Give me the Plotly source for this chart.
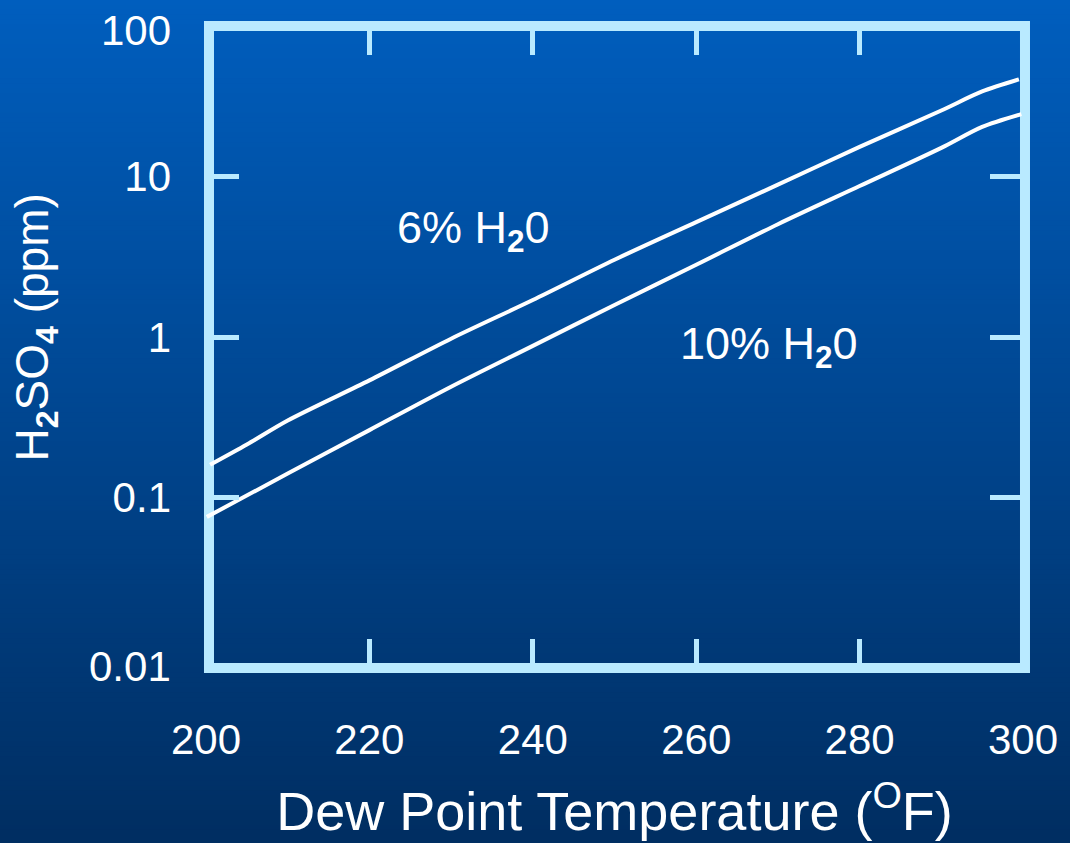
import plotly.graph_objects as go

# ---------------- data ----------------
temp_6pct = [200.5, 205, 210, 220, 230, 240, 250, 260, 270, 280, 290, 295, 299.5]
ppm_6pct = [0.160, 0.214, 0.302, 0.537, 0.977, 1.70, 3.03, 5.20, 8.9, 15.3, 25.8, 33.9, 40.3]

temp_10pct = [200.1, 210, 220, 230, 240, 250, 260, 270, 280, 290, 295, 299.8]
ppm_10pct = [0.0757, 0.141, 0.263, 0.490, 0.881, 1.585, 2.82, 5.05, 8.73, 15.1, 20.4, 24.5]

x_tick_vals = [200, 220, 240, 260, 280, 300]
x_tick_text = ["200", "220", "240", "260", "280", "300"]
y_tick_vals = [0.1, 1, 10]
y_tick_text = ["0.1", "1", "10"]
y_extra_labels = ["100", "0.01"]

# ---------------- geometry / style ----------------
W, H = 1070, 843
ML, MR, MT, MB = 206, 45, 31, 174
PW, PH = W - ML - MR, H - MT - MB
FONT = "Liberation Sans, Arial, sans-serif"
FRAME = "#b9eaff"


def xp(px):
    return (px - ML) / PW


def yp(py):
    return (MT + PH - py) / PH


top_rgb = (0, 94, 190)
bot_rgb = (0, 46, 98)

shapes = []
N = 170
for i in range(N):
    t = (i + 0.5) / N
    c = tuple(round(top_rgb[k] + (bot_rgb[k] - top_rgb[k]) * t) for k in range(3))
    y_top = -20 if i == 0 else H * i / N - 0.6
    y_bot = H + 20 if i == N - 1 else H * (i + 1) / N + 0.6
    shapes.append(dict(
        type="rect", xref="paper", yref="paper",
        x0=xp(-5), x1=xp(W + 5), y0=yp(y_bot), y1=yp(y_top),
        fillcolor="rgb(%d,%d,%d)" % c, line=dict(width=0), layer="below"))

# frame
shapes.append(dict(type="rect", xref="paper", yref="paper",
                   x0=xp(209), x1=xp(1027), y0=yp(674), y1=yp(26),
                   line=dict(color=FRAME, width=10), fillcolor="rgba(0,0,0,0)",
                   layer="below"))

fig = go.Figure()
fig.add_trace(go.Scatter(x=temp_6pct, y=ppm_6pct, mode="lines",
                         line=dict(color="white", width=4, shape="spline", smoothing=0.8),
                         name="6% H2O", showlegend=False, hoverinfo="x+y"))
fig.add_trace(go.Scatter(x=temp_10pct, y=ppm_10pct, mode="lines",
                         line=dict(color="white", width=4, shape="spline", smoothing=0.8),
                         name="10% H2O", showlegend=False, hoverinfo="x+y"))

annotations = [
    dict(text="6% H<sub><b>2</b></sub>0", x=232.8, y=0.704, xref="x", yref="y",
         showarrow=False, font=dict(family=FONT, size=45, color="white"),
         xanchor="center", yanchor="middle", yshift=-6),
    dict(text="10% H<sub><b>2</b></sub>0", x=268.9, y=-0.02, xref="x", yref="y",
         showarrow=False, font=dict(family=FONT, size=45, color="white"),
         xanchor="center", yanchor="middle", yshift=-6),
    dict(text=y_extra_labels[0], x=xp(173), y=yp(30), xref="paper", yref="paper",
         showarrow=False, font=dict(family=FONT, size=42, color="white"),
         xanchor="right", yanchor="middle"),
    dict(text=y_extra_labels[1], x=xp(173), y=yp(673), xref="paper", yref="paper",
         showarrow=False, font=dict(family=FONT, size=42, color="white"),
         xanchor="right", yanchor="middle"),
    dict(text="H<sub><b>2</b></sub>SO<sub><b>4</b></sub> (ppm)", x=xp(35), y=yp(330),
         xref="paper", yref="paper", showarrow=False, textangle=-90,
         font=dict(family=FONT, size=46, color="white"),
         xanchor="center", yanchor="middle"),
]

fig.update_layout(
    width=W, height=H,
    margin=dict(l=ML, r=MR, t=MT, b=MB, pad=0),
    paper_bgcolor="rgb(0,46,98)",
    plot_bgcolor="rgba(0,0,0,0)",
    shapes=shapes,
    annotations=annotations,
    showlegend=False,
    font=dict(family=FONT, color="white"),
)

fig.update_xaxes(
    range=[200, 300], tickvals=x_tick_vals, ticktext=x_tick_text,
    ticks="inside", ticklen=24, tickwidth=5, tickcolor=FRAME,
    mirror="ticks", showline=False, showgrid=False, zeroline=False,
    tickfont=dict(family=FONT, size=42, color="white"),
    ticklabelstandoff=48,
    title=dict(text="Dew Point Temperature (<sup>O</sup>F)",
               font=dict(family=FONT, size=54, color="white"), standoff=30),
)
fig.update_yaxes(
    type="log", range=[-2.031, 1.907], tickvals=y_tick_vals, ticktext=y_tick_text,
    ticks="inside", ticklen=33, tickwidth=5, tickcolor=FRAME,
    mirror="ticks", showline=False, showgrid=False, zeroline=False,
    tickfont=dict(family=FONT, size=42, color="white"),
    ticklabelstandoff=34,
)

fig.write_html("out.html")
